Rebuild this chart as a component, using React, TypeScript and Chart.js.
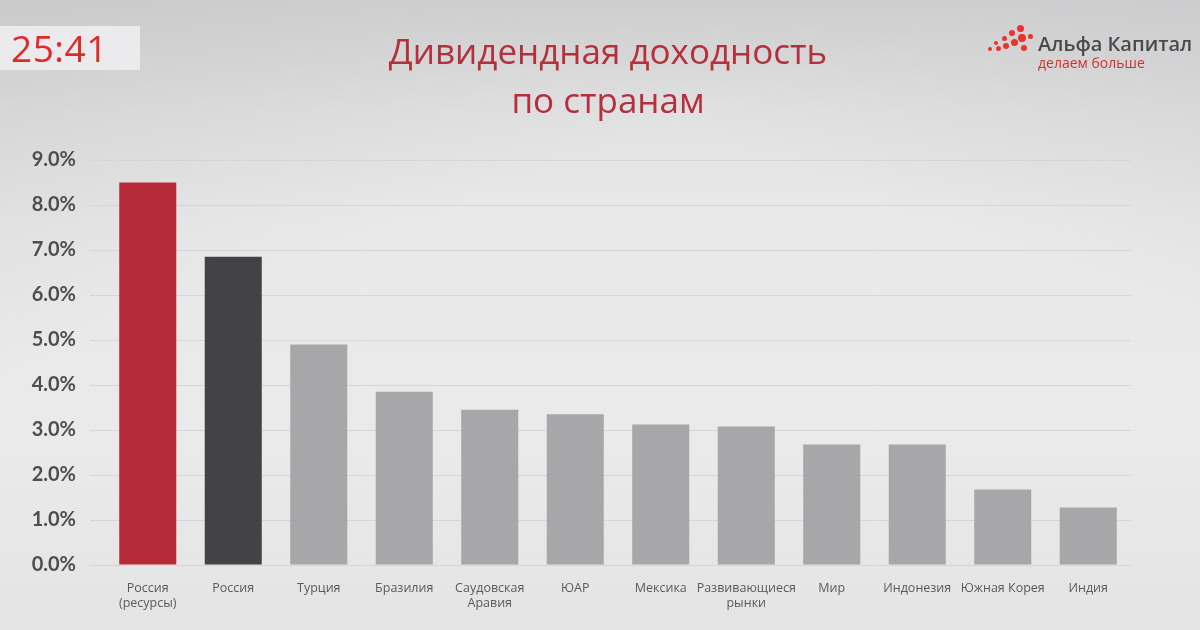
import React, { useEffect, useRef } from "react";
import { Chart, registerables } from "chart.js";

Chart.register(...registerables);

const categories: (string | string[])[] = [
  ["Россия", "(ресурсы)"],
  "Россия",
  "Турция",
  "Бразилия",
  ["Саудовская", "Аравия"],
  "ЮАР",
  "Мексика",
  ["Развивающиеся", "рынки"],
  "Мир",
  "Индонезия",
  "Южная Корея",
  "Индия",
];

const dividendYield: number[] = [8.5, 6.85, 4.9, 3.85, 3.45, 3.35, 3.12, 3.08, 2.68, 2.68, 1.68, 1.28];

const barColors: string[] = [
  "#B72B38",
  "#434345",
  "#A7A7A9",
  "#A7A7A9",
  "#A7A7A9",
  "#A7A7A9",
  "#A7A7A9",
  "#A7A7A9",
  "#A7A7A9",
  "#A7A7A9",
  "#A7A7A9",
  "#A7A7A9",
];

const titleLines: string[] = ["Дивидендная доходность", "по странам"];
const timerText = "25:41";
const logoName = "Альфа Капитал";
const logoSlogan = "делаем больше";

export default function App() {
  const canvasRef = useRef<HTMLCanvasElement | null>(null);

  useEffect(() => {
    document.body.style.margin = "0";
    const ctx = canvasRef.current!;
    const chart = new Chart(ctx, {
      type: "bar",
      data: {
        labels: categories,
        datasets: [
          {
            data: dividendYield,
            backgroundColor: barColors,
            borderWidth: 0,
            barPercentage: 0.667,
            categoryPercentage: 1,
          },
        ],
      },
      options: {
        responsive: false,
        animation: false,
        layout: { padding: { top: 160, right: 69, left: 0, bottom: 0 } },
        plugins: {
          legend: { display: false },
          tooltip: { enabled: false },
        },
        scales: {
          x: {
            grid: { display: false },
            border: { display: false },
            ticks: {
              color: "#5A5A5A",
              font: { family: "Open Sans", size: 12.5 },
              padding: 8,
              maxRotation: 0,
              autoSkip: false,
            },
            afterFit: (scale: any) => {
              scale.height = 65;
            },
          },
          y: {
            min: 0,
            max: 9,
            grid: {
              color: "#D6D6D8",
              lineWidth: 1,
              tickLength: 15,
              tickColor: "#D6D6D8",
            },
            border: { display: false },
            ticks: {
              stepSize: 1,
              padding: 14,
              color: "#4E4E50",
              font: { family: "Lato", size: 20, weight: "bold" },
              callback: (v: any) => Number(v).toFixed(1) + "%",
            },
            afterFit: (scale: any) => {
              scale.width = 105;
            },
          },
        },
      },
    });
    return () => chart.destroy();
  }, []);

  const dots: [number, number, number][] = [
    [996, 43, 2], [1004, 38, 2.5], [1012, 33, 3], [1020, 28, 3.5],
    [990, 49, 2], [998, 48, 2.5], [1006, 46, 3], [1014, 42, 3.5], [1022, 38, 4],
    [1024, 48, 3], [1030, 36, 2.5],
  ];

  return (
    <div
      style={{
        position: "fixed",
        left: 0,
        top: 0,
        width: 1200,
        height: 630,
        overflow: "hidden",
        background:
          "linear-gradient(180deg, #D4D4D5 0%, #E2E2E3 18%, #E9E9EA 35%, #EAEAEB 70%, #E4E4E5 100%)",
      }}
    >
      <div
        style={{
          position: "absolute",
          left: 0,
          top: 0,
          width: 1200,
          height: 630,
          background:
            "linear-gradient(160deg, rgba(190,190,192,0.45) 0%, rgba(230,230,231,0) 35%), linear-gradient(200deg, rgba(195,195,197,0.45) 0%, rgba(230,230,231,0) 30%)",
        }}
      />
      <canvas
        ref={canvasRef}
        width={1200}
        height={630}
        style={{ position: "absolute", left: 0, top: 0 }}
      />
      <div
        style={{
          position: "absolute",
          left: 0,
          top: 26,
          width: 140,
          height: 44,
          background: "rgba(240,240,242,0.85)",
        }}
      />
      <div
        style={{
          position: "absolute",
          left: 11,
          top: 26,
          fontFamily: "Open Sans",
          fontSize: 37,
          color: "#E02A2A",
          lineHeight: "44px",
          letterSpacing: 0.5,
        }}
      >
        {timerText}
      </div>
      <div
        style={{
          position: "absolute",
          left: 300,
          width: 616,
          top: 26,
          textAlign: "center",
          fontFamily: "Open Sans",
          fontSize: 35,
          color: "#B3303C",
          lineHeight: "49px",
        }}
      >
        {titleLines.map((t, i) => (
          <div key={i}>{t}</div>
        ))}
      </div>
      {dots.map(([x, y, r], i) => (
        <div
          key={i}
          style={{
            position: "absolute",
            left: x - r,
            top: y - r,
            width: r * 2,
            height: r * 2,
            borderRadius: "50%",
            background: "#E8332F",
          }}
        />
      ))}
      <div
        style={{
          position: "absolute",
          left: 1038,
          top: 31,
          fontFamily: "Open Sans",
          fontWeight: 600,
          fontSize: 20,
          color: "#4A4A4C",
          whiteSpace: "nowrap",
          lineHeight: "26px",
        }}
      >
        {logoName}
      </div>
      <div
        style={{
          position: "absolute",
          left: 1038,
          top: 54,
          fontFamily: "Open Sans",
          fontSize: 14,
          color: "#D2302E",
          whiteSpace: "nowrap",
          lineHeight: "18px",
        }}
      >
        {logoSlogan}
      </div>
    </div>
  );
}
